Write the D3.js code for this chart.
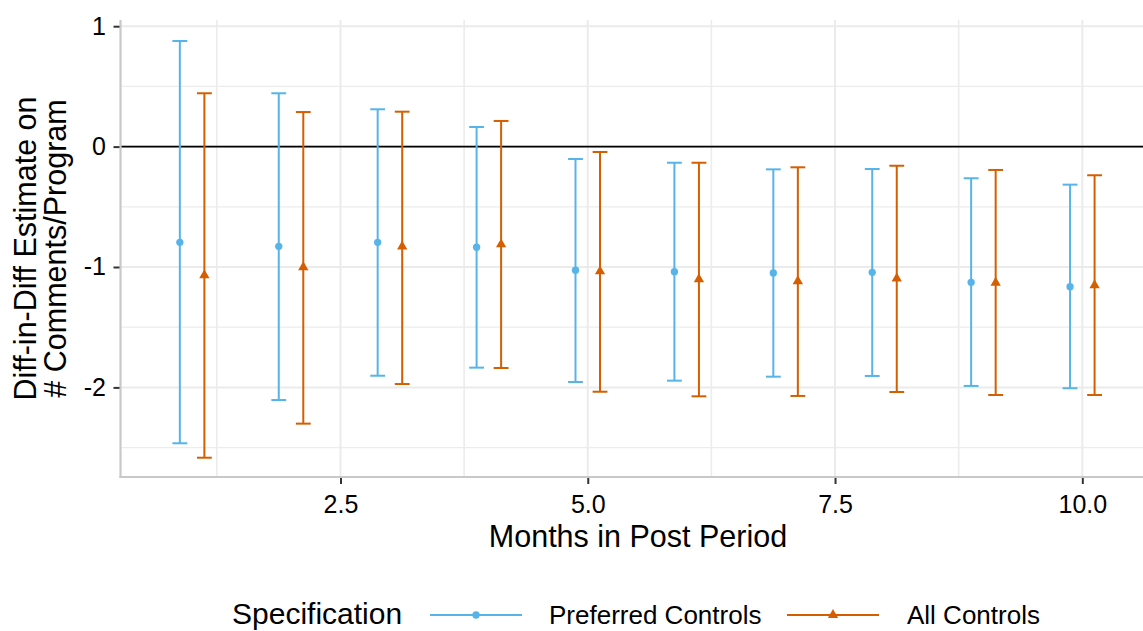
<!DOCTYPE html>
<html>
<head>
<meta charset="utf-8">
<script src="https://cdn.jsdelivr.net/npm/d3@7"></script>
<style>
  html, body { margin: 0; padding: 0; background: #fff; }
  svg { display: block; font-family: "Liberation Sans", Arial, Helvetica, sans-serif; }
</style>
</head>
<body>
<svg id="chart" width="1143" height="631"></svg>
<script>
// ---- data ----
const months = [1, 2, 3, 4, 5, 6, 7, 8, 9, 10];
const seriesNames = ["Preferred Controls", "All Controls"];
const seriesColors = ["#56B4E9", "#D55E00"];
const prefEst   = [-0.795, -0.828, -0.795, -0.836, -1.027, -1.039, -1.050, -1.044, -1.127, -1.164];
const prefLower = [-2.464, -2.105, -1.903, -1.836, -1.955, -1.944, -1.911, -1.905, -1.988, -2.007];
const prefUpper = [ 0.877,  0.443,  0.310,  0.163, -0.103, -0.134, -0.189, -0.186, -0.263, -0.316];
const allEst    = [-1.068, -1.002, -0.830, -0.812, -1.036, -1.102, -1.118, -1.096, -1.130, -1.152];
const allLower  = [-2.584, -2.301, -1.972, -1.839, -2.036, -2.074, -2.071, -2.038, -2.063, -2.063];
const allUpper  = [ 0.443,  0.287,  0.290,  0.213, -0.045, -0.134, -0.172, -0.159, -0.194, -0.238];
const xTickValues = [2.5, 5.0, 7.5, 10.0];
const xTickLabels = ["2.5", "5.0", "7.5", "10.0"];
const xMinorValues = [1.25, 3.75, 6.25, 8.75];
const yTickValues = [1, 0, -1, -2];
const yTickLabels = ["1", "0", "-1", "-2"];
const yMinorValues = [0.5, -0.5, -1.5, -2.5];
const xTitle = "Months in Post Period";
const yTitleLines = ["Diff-in-Diff Estimate on", "# Comments/Program"];
const legendTitle = "Specification";

// ---- build rows ----
const rows = [];
months.forEach((m, i) => {
  rows.push({ month: m, s: 0, est: prefEst[i], lo: prefLower[i], hi: prefUpper[i] });
  rows.push({ month: m, s: 1, est: allEst[i], lo: allLower[i], hi: allUpper[i] });
});

const svg = d3.select("#chart");
const panel = { left: 120.5, right: 1143, top: 20, bottom: 477 };

const x = d3.scaleLinear().domain([0.276, 10.6135]).range([panel.left, panel.right]);
const y = d3.scaleLinear().domain([-2.7442, 1.0515]).range([panel.bottom, panel.top]);
const dodge = 0.124;
const capHalf = 0.075;

const grid = svg.append("g");
// minor grid
grid.selectAll(".hmin").data(yMinorValues).join("line")
  .attr("x1", panel.left).attr("x2", panel.right)
  .attr("y1", d => y(d)).attr("y2", d => y(d))
  .attr("stroke", "#ececec").attr("stroke-width", 1.2);
grid.selectAll(".vmin").data(xMinorValues).join("line")
  .attr("y1", panel.top).attr("y2", panel.bottom)
  .attr("x1", d => x(d)).attr("x2", d => x(d))
  .attr("stroke", "#ececec").attr("stroke-width", 1.6);
// major grid
grid.selectAll(".hmaj").data(yTickValues).join("line")
  .attr("x1", panel.left).attr("x2", panel.right)
  .attr("y1", d => y(d)).attr("y2", d => y(d))
  .attr("stroke", "#ebebeb").attr("stroke-width", 2);
grid.selectAll(".vmaj").data(xTickValues).join("line")
  .attr("y1", panel.top).attr("y2", panel.bottom)
  .attr("x1", d => x(d)).attr("x2", d => x(d))
  .attr("stroke", "#ebebeb").attr("stroke-width", 2);

// zero line
svg.append("line")
  .attr("x1", panel.left).attr("x2", panel.right)
  .attr("y1", y(0)).attr("y2", y(0))
  .attr("stroke", "#000").attr("stroke-width", 1.8);

// axes lines
svg.append("line").attr("x1", panel.left).attr("x2", panel.left)
  .attr("y1", panel.top).attr("y2", panel.bottom + 1)
  .attr("stroke", "#c8c8c8").attr("stroke-width", 2.2);
svg.append("line").attr("x1", panel.left - 1).attr("x2", panel.right)
  .attr("y1", panel.bottom).attr("y2", panel.bottom)
  .attr("stroke", "#c8c8c8").attr("stroke-width", 2.2);

// y axis
const yAxis = d3.axisLeft(y).tickValues(yTickValues)
  .tickFormat((d, i) => yTickLabels[i]).tickSize(6).tickPadding(7.5);
const gy = svg.append("g").attr("transform", `translate(${panel.left - 1},0)`).call(yAxis);
gy.select(".domain").remove();
gy.selectAll(".tick line").attr("stroke", "#333").attr("stroke-width", 2);
gy.selectAll(".tick text").attr("fill", "#000").style("font-size", "25px")
  .style("font-family", "'Liberation Sans', Arial, sans-serif");

// x axis
const xAxis = d3.axisBottom(x).tickValues(xTickValues)
  .tickFormat((d, i) => xTickLabels[i]).tickSize(6).tickPadding(11);
const gx = svg.append("g").attr("transform", `translate(0,${panel.bottom + 1})`).call(xAxis);
gx.select(".domain").remove();
gx.selectAll(".tick line").attr("stroke", "#333").attr("stroke-width", 2);
gx.selectAll(".tick text").attr("fill", "#000").style("font-size", "25px")
  .style("font-family", "'Liberation Sans', Arial, sans-serif");

// error bars
const bars = svg.append("g");
const xp = d => x(d.month + (d.s === 0 ? -dodge : dodge));
bars.selectAll(".vline").data(rows).join("line")
  .attr("x1", xp).attr("x2", xp)
  .attr("y1", d => y(d.lo)).attr("y2", d => y(d.hi))
  .attr("stroke", d => seriesColors[d.s]).attr("stroke-width", 2);
bars.selectAll(".capHi").data(rows).join("line")
  .attr("x1", d => xp(d) - (x(capHalf) - x(0))).attr("x2", d => xp(d) + (x(capHalf) - x(0)))
  .attr("y1", d => y(d.hi)).attr("y2", d => y(d.hi))
  .attr("stroke", d => seriesColors[d.s]).attr("stroke-width", 2);
bars.selectAll(".capLo").data(rows).join("line")
  .attr("x1", d => xp(d) - (x(capHalf) - x(0))).attr("x2", d => xp(d) + (x(capHalf) - x(0)))
  .attr("y1", d => y(d.lo)).attr("y2", d => y(d.lo))
  .attr("stroke", d => seriesColors[d.s]).attr("stroke-width", 2);

const symCircle = d3.symbol().type(d3.symbolCircle).size(42);
const symTri = d3.symbol().type(d3.symbolTriangle).size(46);
bars.selectAll(".pt").data(rows).join("path")
  .attr("d", d => d.s === 0 ? symCircle() : symTri())
  .attr("transform", d => `translate(${xp(d)},${y(d.est)})`)
  .attr("fill", d => seriesColors[d.s]);

// axis titles
svg.append("text").attr("x", 638).attr("y", 547)
  .attr("text-anchor", "middle").style("font-size", "30.5px").attr("fill", "#000").text(xTitle);
const yc = (panel.top + panel.bottom) / 2;
svg.append("text").attr("transform", `translate(36,${yc}) rotate(-90)`)
  .attr("text-anchor", "middle").style("font-size", "30.5px").attr("fill", "#000").text(yTitleLines[0]);
svg.append("text").attr("transform", `translate(66,${yc}) rotate(-90)`)
  .attr("text-anchor", "middle").style("font-size", "30.5px").attr("fill", "#000").text(yTitleLines[1]);

// legend
const lg = svg.append("g");
const ly = 615;
lg.append("text").attr("x", 232).attr("y", 624).style("font-size", "30px").attr("fill", "#000").text(legendTitle);
const keyX = [430, 787];
const labX = [549, 907];
seriesNames.forEach((name, i) => {
  lg.append("line").attr("x1", keyX[i]).attr("x2", keyX[i] + 92)
    .attr("y1", ly).attr("y2", ly).attr("stroke", seriesColors[i]).attr("stroke-width", 2);
  lg.append("path").attr("d", i === 0 ? symCircle() : symTri())
    .attr("transform", `translate(${keyX[i] + 46},${ly})`).attr("fill", seriesColors[i]);
  lg.append("text").attr("x", labX[i]).attr("y", 624).style("font-size", "26px").attr("fill", "#000").text(name);
});
</script>
</body>
</html>
